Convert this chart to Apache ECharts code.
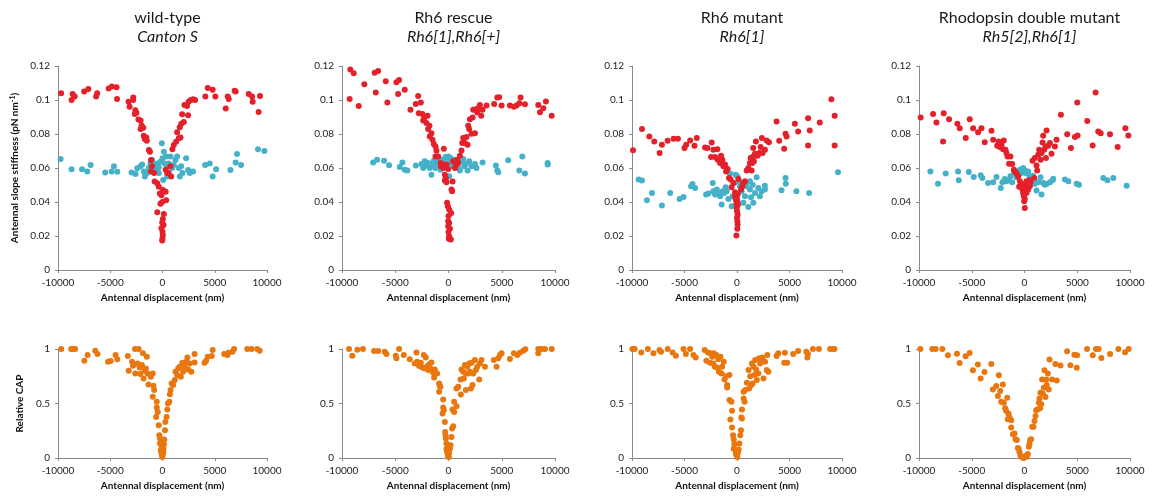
<!DOCTYPE html>
<html>
<head>
<meta charset="utf-8">
<script src="https://cdn.jsdelivr.net/npm/echarts@6/dist/echarts.min.js"></script>
<style>
  html, body { margin: 0; padding: 0; background: #fff; }
  #chart { width: 1152px; height: 496px; }
</style>
</head>
<body>
<div id="chart"></div>
<script>
// ---- panel titles ----
const genotypes = ['wild-type', 'Rh6 rescue', 'Rh6 mutant', 'Rhodopsin double mutant'];
const alleles = ['Canton S', 'Rh6[1],Rh6[+]', 'Rh6[1]', 'Rh5[2],Rh6[1]'];

// ---- axis ticks ----
const displacementTicks = { min: -10000, max: 10000, interval: 5000 };
const stiffnessTicks = { min: 0, max: 0.12, interval: 0.02 };
const capTicks = { min: 0, max: 1, interval: 0.5 };

// ---- wild-type: slope stiffness [displacement nm, pN/nm] ----
const wtActive = [
  [-9700,0.104],[-8700,0.100],[-8600,0.1035],[-8400,0.102],[-7500,0.105],[-7100,0.1065],[-6350,0.102],[-6250,0.104],
  [-5150,0.1067],[-4850,0.108],[-4400,0.1075],[-4350,0.1006],[-3250,0.099],[-3150,0.096],[-2800,0.1015],[-2800,0.100],
  [-2600,0.094],[-2650,0.0918],[-2500,0.0925],[-2300,0.0886],[-2100,0.088],[-2000,0.085],[-2100,0.083],[-1850,0.0837],
  [-1800,0.079],[-1700,0.077],[-1550,0.078],[-1500,0.076],[-1300,0.0706],[-1200,0.0696],[-1100,0.0647],[-1000,0.061],
  [-1100,0.058],[-800,0.057],[-750,0.052],[-500,0.051],[-350,0.049],[-250,0.045],[-100,0.044],[50,0.047],[300,0.046],
  [350,0.041],[-30,0.040],[-200,0.039],[-500,0.034],[130,0.033],[30,0.030],[-30,0.028],[100,0.0265],[-100,0.0245],
  [0,0.0225],[30,0.0206],[0,0.0186],[-30,0.0173],
  [750,0.061],[600,0.057],[830,0.055],[450,0.057],[300,0.059],[950,0.071],[1080,0.0735],[1300,0.0755],[1560,0.0775],
  [1720,0.078],[1400,0.081],[1650,0.084],[1800,0.086],[2040,0.087],[1880,0.0916],[2100,0.097],[2350,0.0965],[2450,0.091],
  [2500,0.099],[2700,0.100],[2930,0.1004],[3120,0.100],[4100,0.102],[4330,0.107],[4800,0.106],[5060,0.102],[6050,0.095],
  [6240,0.102],[6340,0.1006],[6900,0.1055],[7000,0.105],[8250,0.1035],[8570,0.102],[8630,0.099],[9200,0.093],[9330,0.1024]
];
const wtPassive = [
  [-9750,0.0653],[-8700,0.0592],[-7700,0.0592],[-7200,0.058],[-6880,0.0618],[-5480,0.0573],[-4870,0.058],[-4650,0.061],
  [-4330,0.0578],[-2960,0.0573],[-2580,0.0565],[-2420,0.0598],[-2100,0.061],[-1940,0.062],[-1780,0.058],[-1690,0.055],
  [-1460,0.057],[-1300,0.060],[-1150,0.0627],[-990,0.0647],[-830,0.0618],[-670,0.0588],[-510,0.0627],[-350,0.0604],
  [-190,0.0637],[-60,0.0745],[0,0.0657],[130,0.0696],[220,0.0627],[350,0.0667],[450,0.061],[600,0.0627],[760,0.0667],
  [920,0.060],[1080,0.0618],[1240,0.0647],[1400,0.0667],[1560,0.060],[1650,0.055],[1780,0.061],[1910,0.057],[2260,0.0657],
  [2450,0.0588],[2610,0.057],[2930,0.058],[4080,0.0618],[4520,0.0627],[4800,0.055],[5130,0.0592],[6500,0.0588],
  [7000,0.0633],[7130,0.0682],[7520,0.0618],[9140,0.071],[9750,0.070],[60,0.053],[-350,0.057],[450,0.055]
];
// ---- wild-type: relative CAP ----
const wtCap = [
  [-9690,1],[-8740,1],[-8580,1],[-8360,1],[-7480,0.893],[-7170,0.945],[-6440,0.985],[-6220,0.954],[-5210,0.883],
  [-4960,0.89],[-4490,0.945],[-4330,0.905],[-3320,0.936],[-3230,0.80],[-2910,0.883],[-2820,0.847],[-2630,1],[-2280,1],
  [-2600,0.776],[-2380,0.868],[-2190,0.831],[-2130,0.77],[-1970,0.853],[-1870,0.96],[-1810,0.73],[-1720,0.80],
  [-1590,0.822],[-1500,0.93],[-1430,0.776],[-1340,0.675],[-1120,0.745],[-930,0.776],[-870,0.663],[-930,0.561],
  [-800,0.623],[-550,0.515],[-550,0.463],[-610,0.377],[-460,0.423],[-360,0.30],[-300,0.209],[-240,0.178],[-240,0.132],
  [-170,0.07],[-110,0.046],[-50,0.025],[0,0.009],[50,0.04],[80,0.086],[140,0.126],[170,0.169],[240,0.255],[270,0.331],
  [390,0.377],[460,0.445],[520,0.50],[650,0.515],[710,0.586],[770,0.623],[870,0.684],[1020,0.669],[1180,0.715],
  [1240,0.791],[1400,0.761],[1500,0.822],[1650,0.837],[1750,0.745],[1900,0.874],[1970,0.791],[2130,0.837],[2280,0.883],
  [2380,0.923],[2470,0.813],[2600,0.868],[2760,0.791],[3070,0.954],[3070,0.877],[4020,0.874],[4170,0.893],[4330,0.93],
  [4800,0.99],[4710,0.936],[5900,0.954],[6220,0.945],[6310,0.966],[6690,0.975],[6850,1],[8110,1],[8520,1],[9060,1],
  [9300,0.985],[-80,0.1],[80,0.055],[-140,0.132]
];

// ---- Rh6 rescue ----
const rescueActive = [
  [-9280,0.1006],[-9220,0.118],[-8900,0.1157],[-8430,0.0965],[-7900,0.1092],[-6930,0.116],[-6830,0.1044],[-6610,0.117],
  [-5890,0.111],[-5740,0.0985],[-4890,0.1104],[-4730,0.1036],[-4640,0.1118],[-4110,0.106],[-3570,0.0942],[-3070,0.0977],
  [-2850,0.1024],[-2790,0.0922],[-2600,0.0985],[-2450,0.0918],[-2380,0.0879],[-2290,0.0893],[-2070,0.0864],[-1970,0.0907],
  [-1910,0.0829],[-1790,0.0848],[-1760,0.0786],[-1600,0.0805],[-1500,0.0766],[-1380,0.0741],[-1220,0.0727],[-1130,0.0702],
  [-1220,0.0668],[-970,0.0668],[-440,0.0713],[-750,0.0629],[-560,0.062],[-440,0.0606],[-720,0.061],[-340,0.056],
  [-250,0.054],[-340,0.0526],[-190,0.0516],[380,0.052],[280,0.0473],[340,0.0463],[-130,0.0395],[-60,0.0375],[60,0.0356],
  [250,0.0336],[0,0.0317],[-30,0.0287],[60,0.0277],[-30,0.0258],[130,0.0242],[0,0.0223],[60,0.0199],[30,0.0184],[220,0.018],
  [440,0.0639],[600,0.060],[750,0.062],[820,0.0649],[910,0.063],[1220,0.0703],[1070,0.0672],[1290,0.0747],[1380,0.0776],
  [1540,0.0747],[1690,0.0782],[1790,0.0737],[1850,0.0848],[1940,0.0829],[2010,0.0887],[2160,0.0801],[2260,0.0897],
  [2320,0.0942],[2480,0.0805],[2570,0.0946],[2700,0.0926],[2790,0.0952],[2950,0.0971],[3070,0.0907],[3200,0.0942],
  [3570,0.0967],[4290,0.0977],[4580,0.1014],[4760,0.1016],[4980,0.0967],[5770,0.0967],[6140,0.0961],[6390,0.0967],
  [6650,0.0981],[6770,0.1014],[7180,0.0975],[8430,0.0971],[8590,0.0928],[8900,0.0952],[9150,0.0991],[9690,0.0907],
  [-190,0.062],[-30,0.0594],[-660,0.0614],[-500,0.060]
];
const rescuePassive = [
  [-7080,0.0633],[-6710,0.0649],[-6050,0.0643],[-5580,0.0616],[-4580,0.0606],[-4330,0.0633],[-4110,0.059],[-3860,0.0586],
  [-3070,0.0614],[-2540,0.0623],[-2380,0.060],[-2230,0.0639],[-2070,0.0614],[-1910,0.063],[-1760,0.060],[-1600,0.056],
  [-1500,0.062],[-1380,0.0643],[-1250,0.060],[-1130,0.063],[-970,0.0649],[-750,0.059],[-560,0.0649],[-410,0.063],
  [-280,0.0664],[-130,0.0659],[0,0.0668],[130,0.063],[190,0.0659],[280,0.0639],[60,0.0551],[440,0.061],[600,0.0649],
  [750,0.062],[910,0.060],[1070,0.0586],[1220,0.0639],[1380,0.0653],[1470,0.061],[1630,0.0623],[1790,0.0586],
  [1940,0.0639],[2160,0.061],[2480,0.0623],[2630,0.060],[3200,0.0633],[4450,0.0614],[4580,0.0586],[4670,0.0575],
  [5610,0.0645],[6650,0.0586],[6930,0.0668],[7180,0.0567],[9310,0.0629],[9310,0.062]
];
const rescueCap = [
  [-9340,1],[-9030,0.939],[-8560,0.994],[-8030,1],[-6990,0.982],[-6610,0.982],[-5990,0.975],[-5830,0.954],[-4950,0.939],
  [-4890,0.914],[-4640,1],[-4200,0.945],[-3640,0.905],[-3010,0.969],[-3170,0.868],[-2950,0.883],[-2760,0.844],
  [-2600,0.874],[-2450,0.831],[-2320,0.945],[-2230,0.822],[-2130,0.923],[-2010,0.837],[-1910,0.807],[-1820,0.859],
  [-1690,0.822],[-1600,0.877],[-1540,0.807],[-1440,0.782],[-1290,0.813],[-1190,0.782],[-1070,0.776],[-1350,0.739],
  [-880,0.684],[-820,0.66],[-880,0.607],[-750,0.653],[-500,0.537],[-500,0.463],[-440,0.439],[-560,0.408],[-340,0.331],
  [-310,0.239],[-280,0.209],[-250,0.178],[-190,0.132],[-190,0.086],[-130,0.061],[-90,0.04],[-30,0.015],[30,0.009],
  [60,0.046],[130,0.086],[190,0.117],[280,0.193],[340,0.27],[440,0.291],[380,0.445],[530,0.515],[530,0.423],[750,0.475],
  [750,0.638],[910,0.653],[1130,0.721],[1160,0.583],[1220,0.813],[1380,0.791],[1440,0.73],[1540,0.853],[1630,0.776],
  [1630,0.623],[1760,0.837],[1850,0.776],[1940,0.868],[2010,0.791],[2100,0.638],[2160,0.874],[2260,0.669],[2320,0.776],
  [2480,0.899],[2570,0.807],[2700,0.837],[2880,0.721],[2950,0.868],[3100,0.899],[3420,0.837],[4260,0.899],[4510,0.837],
  [4670,0.914],[4830,0.945],[4980,0.96],[5770,0.908],[6140,0.96],[6460,0.945],[6710,0.966],[7020,0.985],[7210,0.997],
  [8430,1],[8430,0.96],[8750,1],[9060,1],[9690,1]
];

// ---- Rh6 mutant ----
const mutantActive = [
  [-9900,0.0704],[-9050,0.083],[-8350,0.0786],[-7880,0.0756],[-7370,0.0688],[-7150,0.0737],[-6610,0.076],[-6040,0.0772],
  [-5630,0.0772],[-5000,0.0717],[-4840,0.0737],[-4460,0.0762],[-4050,0.0731],[-3830,0.0776],[-3040,0.0721],[-2820,0.0717],
  [-2410,0.075],[-2470,0.0664],[-2250,0.0707],[-2090,0.0664],[-1870,0.0711],[-1840,0.0649],[-1610,0.0629],[-1520,0.0672],
  [-1390,0.0649],[-1300,0.061],[-1140,0.062],[-1040,0.058],[-890,0.0594],[-760,0.0541],[-600,0.0532],[-510,0.0487],
  [-350,0.0512],[-190,0.0457],[-90,0.0444],[-30,0.0424],[30,0.0405],[-190,0.0434],[90,0.0385],[-30,0.0365],[0,0.0346],
  [60,0.0326],[0,0.0307],[30,0.0287],[60,0.0268],[30,0.0242],[-60,0.0203],[130,0.0535],[380,0.0473],[600,0.0512],
  [760,0.0522],[510,0.0492],[920,0.0586],[1080,0.060],[1230,0.0629],[1300,0.0659],[1390,0.0586],[1460,0.0629],
  [1550,0.0668],[1610,0.0639],[1710,0.0684],[1550,0.0717],[1800,0.0756],[1960,0.0672],[2120,0.0688],[2250,0.0723],
  [2370,0.0776],[2440,0.0688],[2660,0.0707],[2820,0.0762],[3040,0.0752],[3770,0.0874],[4020,0.076],[4490,0.0713],
  [4620,0.0801],[4720,0.0786],[5510,0.086],[5820,0.0815],[6770,0.0893],[6770,0.0733],[6930,0.0821],[7880,0.0868],
  [8990,0.1004],[9300,0.0907],[9300,0.0733],[-120,0.0415],[70,0.0445],[-60,0.039]
];
const mutantPassive = [
  [-9370,0.0532],[-9050,0.0526],[-8580,0.041],[-8100,0.0453],[-7150,0.0379],[-6360,0.0453],[-5470,0.0418],[-5090,0.043],
  [-4370,0.0492],[-4240,0.0506],[-3990,0.0483],[-2940,0.0444],[-2720,0.045],[-2310,0.0512],[-2250,0.0463],[-2090,0.0444],
  [-1930,0.0473],[-1770,0.0453],[-1610,0.0434],[-1460,0.0385],[-1360,0.0463],[-1230,0.0453],[-1080,0.0487],[-980,0.0463],
  [-820,0.0418],[-660,0.0567],[-510,0.0375],[-410,0.0434],[-250,0.0512],[-130,0.0561],[30,0.0551],[190,0.0522],
  [280,0.0492],[440,0.0463],[600,0.0395],[760,0.0434],[920,0.0492],[1080,0.0371],[1230,0.0473],[1330,0.0428],
  [1490,0.0502],[1550,0.0395],[1710,0.0453],[1870,0.0545],[2030,0.0483],[2180,0.0434],[2340,0.0463],[2660,0.0496],
  [2660,0.0473],[4240,0.0469],[4620,0.0541],[4650,0.0508],[5660,0.0463],[6870,0.0453],[9620,0.0575],[1230,0.0522],
  [760,0.0512]
];
const mutantCap = [
  [-9950,1],[-9750,1],[-9120,0.969],[-8490,1],[-7960,0.96],[-7390,0.991],[-7230,0.975],[-6600,1],[-6130,0.969],
  [-5820,0.939],[-5090,1],[-4870,0.954],[-4470,1],[-4150,0.945],[-3930,0.923],[-3080,0.991],[-2920,0.893],[-2770,0.969],
  [-2580,0.874],[-2520,0.96],[-2360,0.929],[-2260,0.868],[-2200,0.96],[-2110,0.837],[-1980,0.945],[-1890,0.828],
  [-1790,0.905],[-1730,0.791],[-1570,0.929],[-1480,0.776],[-1420,0.837],[-1260,0.883],[-1190,0.721],[-1040,0.751],
  [-940,0.669],[-720,0.761],[-940,0.647],[-720,0.531],[-530,0.515],[-470,0.433],[-630,0.353],[-470,0.279],[-380,0.209],
  [-310,0.169],[-250,0.126],[-310,0.086],[-160,0.071],[-90,0.04],[-30,0.025],[30,0.009],[90,0.046],[160,0.077],
  [220,0.132],[310,0.209],[380,0.255],[470,0.362],[410,0.371],[470,0.445],[630,0.546],[720,0.515],[630,0.607],
  [790,0.623],[940,0.69],[1100,0.807],[1160,0.638],[1260,0.751],[1350,0.669],[1420,0.868],[1480,0.684],[1570,0.837],
  [1670,0.761],[1730,0.899],[1820,0.813],[1890,0.715],[2040,0.776],[2110,0.914],[2200,0.868],[2300,0.899],[2420,0.923],
  [2520,0.73],[2670,0.883],[2830,0.807],[2990,0.791],[2890,0.945],[3770,0.936],[3930,0.96],[4560,0.966],[4500,0.874],
  [4780,0.874],[5350,0.954],[5820,0.982],[6600,0.975],[6700,0.923],[6760,0.951],[7230,1],[7800,1],[8870,1],[9120,1],[9280,1]
];

// ---- Rhodopsin double mutant ----
const doubleActive = [
  [-9840,0.0897],[-8670,0.0917],[-8350,0.0868],[-7720,0.0756],[-7660,0.0922],[-7150,0.0887],[-6360,0.086],[-6140,0.0834],
  [-5570,0.0776],[-5190,0.0887],[-4870,0.0834],[-4400,0.0811],[-4080,0.0834],[-3770,0.0752],[-3130,0.0819],[-2970,0.0766],
  [-2590,0.0731],[-2440,0.0756],[-2340,0.0723],[-2180,0.0737],[-1960,0.0762],[-2030,0.0711],[-1800,0.0707],[-1710,0.0688],
  [-1610,0.0668],[-1460,0.0625],[-1330,0.0668],[-1170,0.0623],[-1010,0.059],[-920,0.058],[-760,0.0567],[-600,0.0551],
  [-440,0.0522],[-510,0.0489],[-280,0.0502],[-190,0.0473],[-130,0.0453],[-60,0.0434],[30,0.0418],[-30,0.0405],[30,0.0364],
  [190,0.0453],[350,0.0473],[510,0.0492],[570,0.0516],[440,0.0528],[190,0.0522],[-130,0.0492],[130,0.0492],[280,0.0502],
  [30,0.0508],[920,0.0541],[760,0.0643],[980,0.0659],[1140,0.0614],[1200,0.0586],[1300,0.0678],[1390,0.0707],[1520,0.0649],
  [1610,0.0688],[1710,0.075],[1770,0.079],[1870,0.0707],[1990,0.0727],[2030,0.0659],[2090,0.0821],[2250,0.0731],
  [2410,0.0747],[2560,0.0684],[2880,0.0727],[3040,0.0766],[3450,0.0913],[4050,0.0799],[4400,0.0717],[4780,0.0782],
  [5000,0.0985],[5030,0.0791],[5950,0.0877],[6460,0.0733],[6740,0.1044],[6990,0.0815],[7220,0.0805],[8100,0.0799],
  [8830,0.0723],[9560,0.0834],[9840,0.0791],[-250,0.0485],[100,0.047],[-60,0.0455],[200,0.0480]
];
const doublePassive = [
  [-8920,0.058],[-8200,0.0508],[-7470,0.0567],[-6300,0.058],[-6230,0.0528],[-5280,0.0577],[-4810,0.0547],[-4150,0.0557],
  [-3990,0.0541],[-3450,0.0512],[-2970,0.0516],[-2660,0.0547],[-2250,0.0483],[-2090,0.0516],[-1870,0.0535],[-1710,0.0522],
  [-1490,0.0528],[-1330,0.0551],[-1170,0.0516],[-980,0.0571],[-760,0.0545],[-600,0.0561],[-440,0.059],[-280,0.0571],
  [-130,0.060],[30,0.0586],[190,0.0567],[350,0.058],[510,0.0551],[660,0.0532],[820,0.0555],[980,0.0508],[1140,0.0467],
  [1300,0.0516],[1520,0.0545],[1610,0.0444],[1770,0.0512],[1930,0.0502],[2090,0.0506],[2410,0.0516],[2660,0.0528],
  [2720,0.0537],[3830,0.0532],[4150,0.0522],[4940,0.0508],[5160,0.0502],[7470,0.0541],[7850,0.0528],[8420,0.0541],
  [9680,0.0496]
];
const doubleCap = [
  [-9870,1],[-8740,1],[-8420,1],[-7790,1],[-7260,0.942],[-6400,0.957],[-6150,0.872],[-5580,0.933],[-5200,0.964],
  [-4890,0.805],[-4420,0.857],[-4160,0.73],[-3790,0.79],[-3150,0.863],[-3000,0.629],[-2680,0.66],[-2520,0.568],
  [-2430,0.76],[-2300,0.614],[-2210,0.517],[-2050,0.675],[-1960,0.508],[-1830,0.456],[-1740,0.432],[-1640,0.553],
  [-1580,0.356],[-1510,0.407],[-1420,0.371],[-1260,0.347],[-1260,0.28],[-1100,0.219],[-950,0.225],[-850,0.173],
  [-730,0.164],[-630,0.091],[-540,0.082],[-470,0.052],[-380,0.021],[-220,0.006],[-90,0],[0,0.012],[160,0.021],[220,0.012],
  [320,0.036],[410,0.103],[470,0.128],[540,0.164],[630,0.173],[730,0.286],[850,0.286],[950,0.34],[1040,0.386],[1100,0.438],
  [1260,0.447],[1360,0.508],[1420,0.547],[1480,0.456],[1510,0.599],[1580,0.492],[1670,0.72],[1740,0.59],[1830,0.644],
  [1890,0.805],[1990,0.559],[2050,0.72],[2110,0.669],[2210,0.775],[2300,0.629],[2370,0.903],[2620,0.72],[2930,0.863],
  [3060,0.711],[3410,0.848],[4040,0.979],[4350,0.851],[4730,0.948],[4950,0.827],[4980,0.942],[5930,1],[6470,0.942],
  [6780,1],[7030,1],[7290,0.918],[8110,0.954],[8900,1],[9530,0.97],[9870,1]
];

const activeSets = [wtActive, rescueActive, mutantActive, doubleActive];
const passiveSets = [wtPassive, rescuePassive, mutantPassive, doublePassive];
const capSets = [wtCap, rescueCap, mutantCap, doubleCap];

// ---- layout ----
const colLeft = [58, 342, 632, 919];
const colWidth = [209, 213, 210, 211];
const RED = '#e4202a', BLUE = '#44b1c9', ORANGE = '#e8770f';
const FONT = 'Lato';

const grids = [], xAxes = [], yAxes = [], series = [], titles = [];

// plain numbers on the ticks: no thousands separators, no float noise
const plainNumber = v => String(+(+v).toFixed(6));

function axisBase() {
  return {
    axisLine: { show: true, onZero: false, lineStyle: { color: '#8a8a8a', width: 1 } },
    axisTick: { show: true, inside: false, length: 3, lineStyle: { color: '#8a8a8a' } },
    splitLine: { show: false },
    axisLabel: { color: '#222', fontSize: 10, fontFamily: FONT, margin: 8, formatter: plainNumber }
  };
}

for (let c = 0; c < 4; c++) {
  const cx = colLeft[c] + colWidth[c] / 2;
  titles.push({
    text: genotypes[c], subtext: alleles[c], left: cx, top: 5, textAlign: 'center', itemGap: 3,
    textStyle: { fontFamily: FONT, fontSize: 16, fontWeight: 'normal', color: '#1a1a1a' },
    subtextStyle: { fontFamily: FONT, fontSize: 16, fontStyle: 'italic', color: '#1a1a1a' }
  });
  // upper row: slope stiffness
  grids.push({ left: colLeft[c], width: colWidth[c], top: 66, height: 204 });
  // lower row: relative CAP
  grids.push({ left: colLeft[c], width: colWidth[c], top: 349, height: 109 });
}

for (let c = 0; c < 4; c++) {
  for (let r = 0; r < 2; r++) {
    const gi = c * 2 + r;
    xAxes.push(Object.assign(axisBase(), {
      type: 'value', gridIndex: gi,
      min: displacementTicks.min, max: displacementTicks.max, interval: displacementTicks.interval,
      name: 'Antennal displacement (nm)', nameLocation: 'middle', nameGap: 23,
      nameTextStyle: { fontFamily: FONT, fontSize: 10, fontWeight: 'bold', color: '#111' }
    }));
    const t = r === 0 ? stiffnessTicks : capTicks;
    const y = Object.assign(axisBase(), {
      type: 'value', gridIndex: gi, min: t.min, max: t.max, interval: t.interval
    });
    if (c === 0) {
      y.name = r === 0 ? 'Antennal slope stiffness (pN nm{sup|-1})' : 'Relative CAP';
      y.nameLocation = 'middle';
      y.nameGap = r === 0 ? 37 : 33;
      y.nameTextStyle = {
        fontFamily: FONT, fontSize: 10, fontWeight: 'bold', color: '#111',
        rich: { sup: { fontFamily: FONT, fontSize: 7, fontWeight: 'bold', color: '#111', verticalAlign: 'top', padding: [0, 0, 5, 0] } }
      };
    }
    yAxes.push(y);
  }
  const dot = { type: 'scatter', symbol: 'circle', symbolSize: 6, silent: true };
  series.push(Object.assign({}, dot, { name: 'passive', xAxisIndex: c * 2, yAxisIndex: c * 2, data: passiveSets[c], itemStyle: { color: BLUE, opacity: 1 } }));
  series.push(Object.assign({}, dot, { name: 'active', xAxisIndex: c * 2, yAxisIndex: c * 2, data: activeSets[c], itemStyle: { color: RED, opacity: 1 } }));
  series.push(Object.assign({}, dot, { name: 'CAP', xAxisIndex: c * 2 + 1, yAxisIndex: c * 2 + 1, data: capSets[c], itemStyle: { color: ORANGE, opacity: 1 } }));
}

const chart = echarts.init(document.getElementById('chart'), null, { renderer: 'canvas' });
chart.setOption({
  backgroundColor: '#fff',
  animation: false,
  title: titles,
  grid: grids,
  xAxis: xAxes,
  yAxis: yAxes,
  series: series
});
</script>
</body>
</html>
